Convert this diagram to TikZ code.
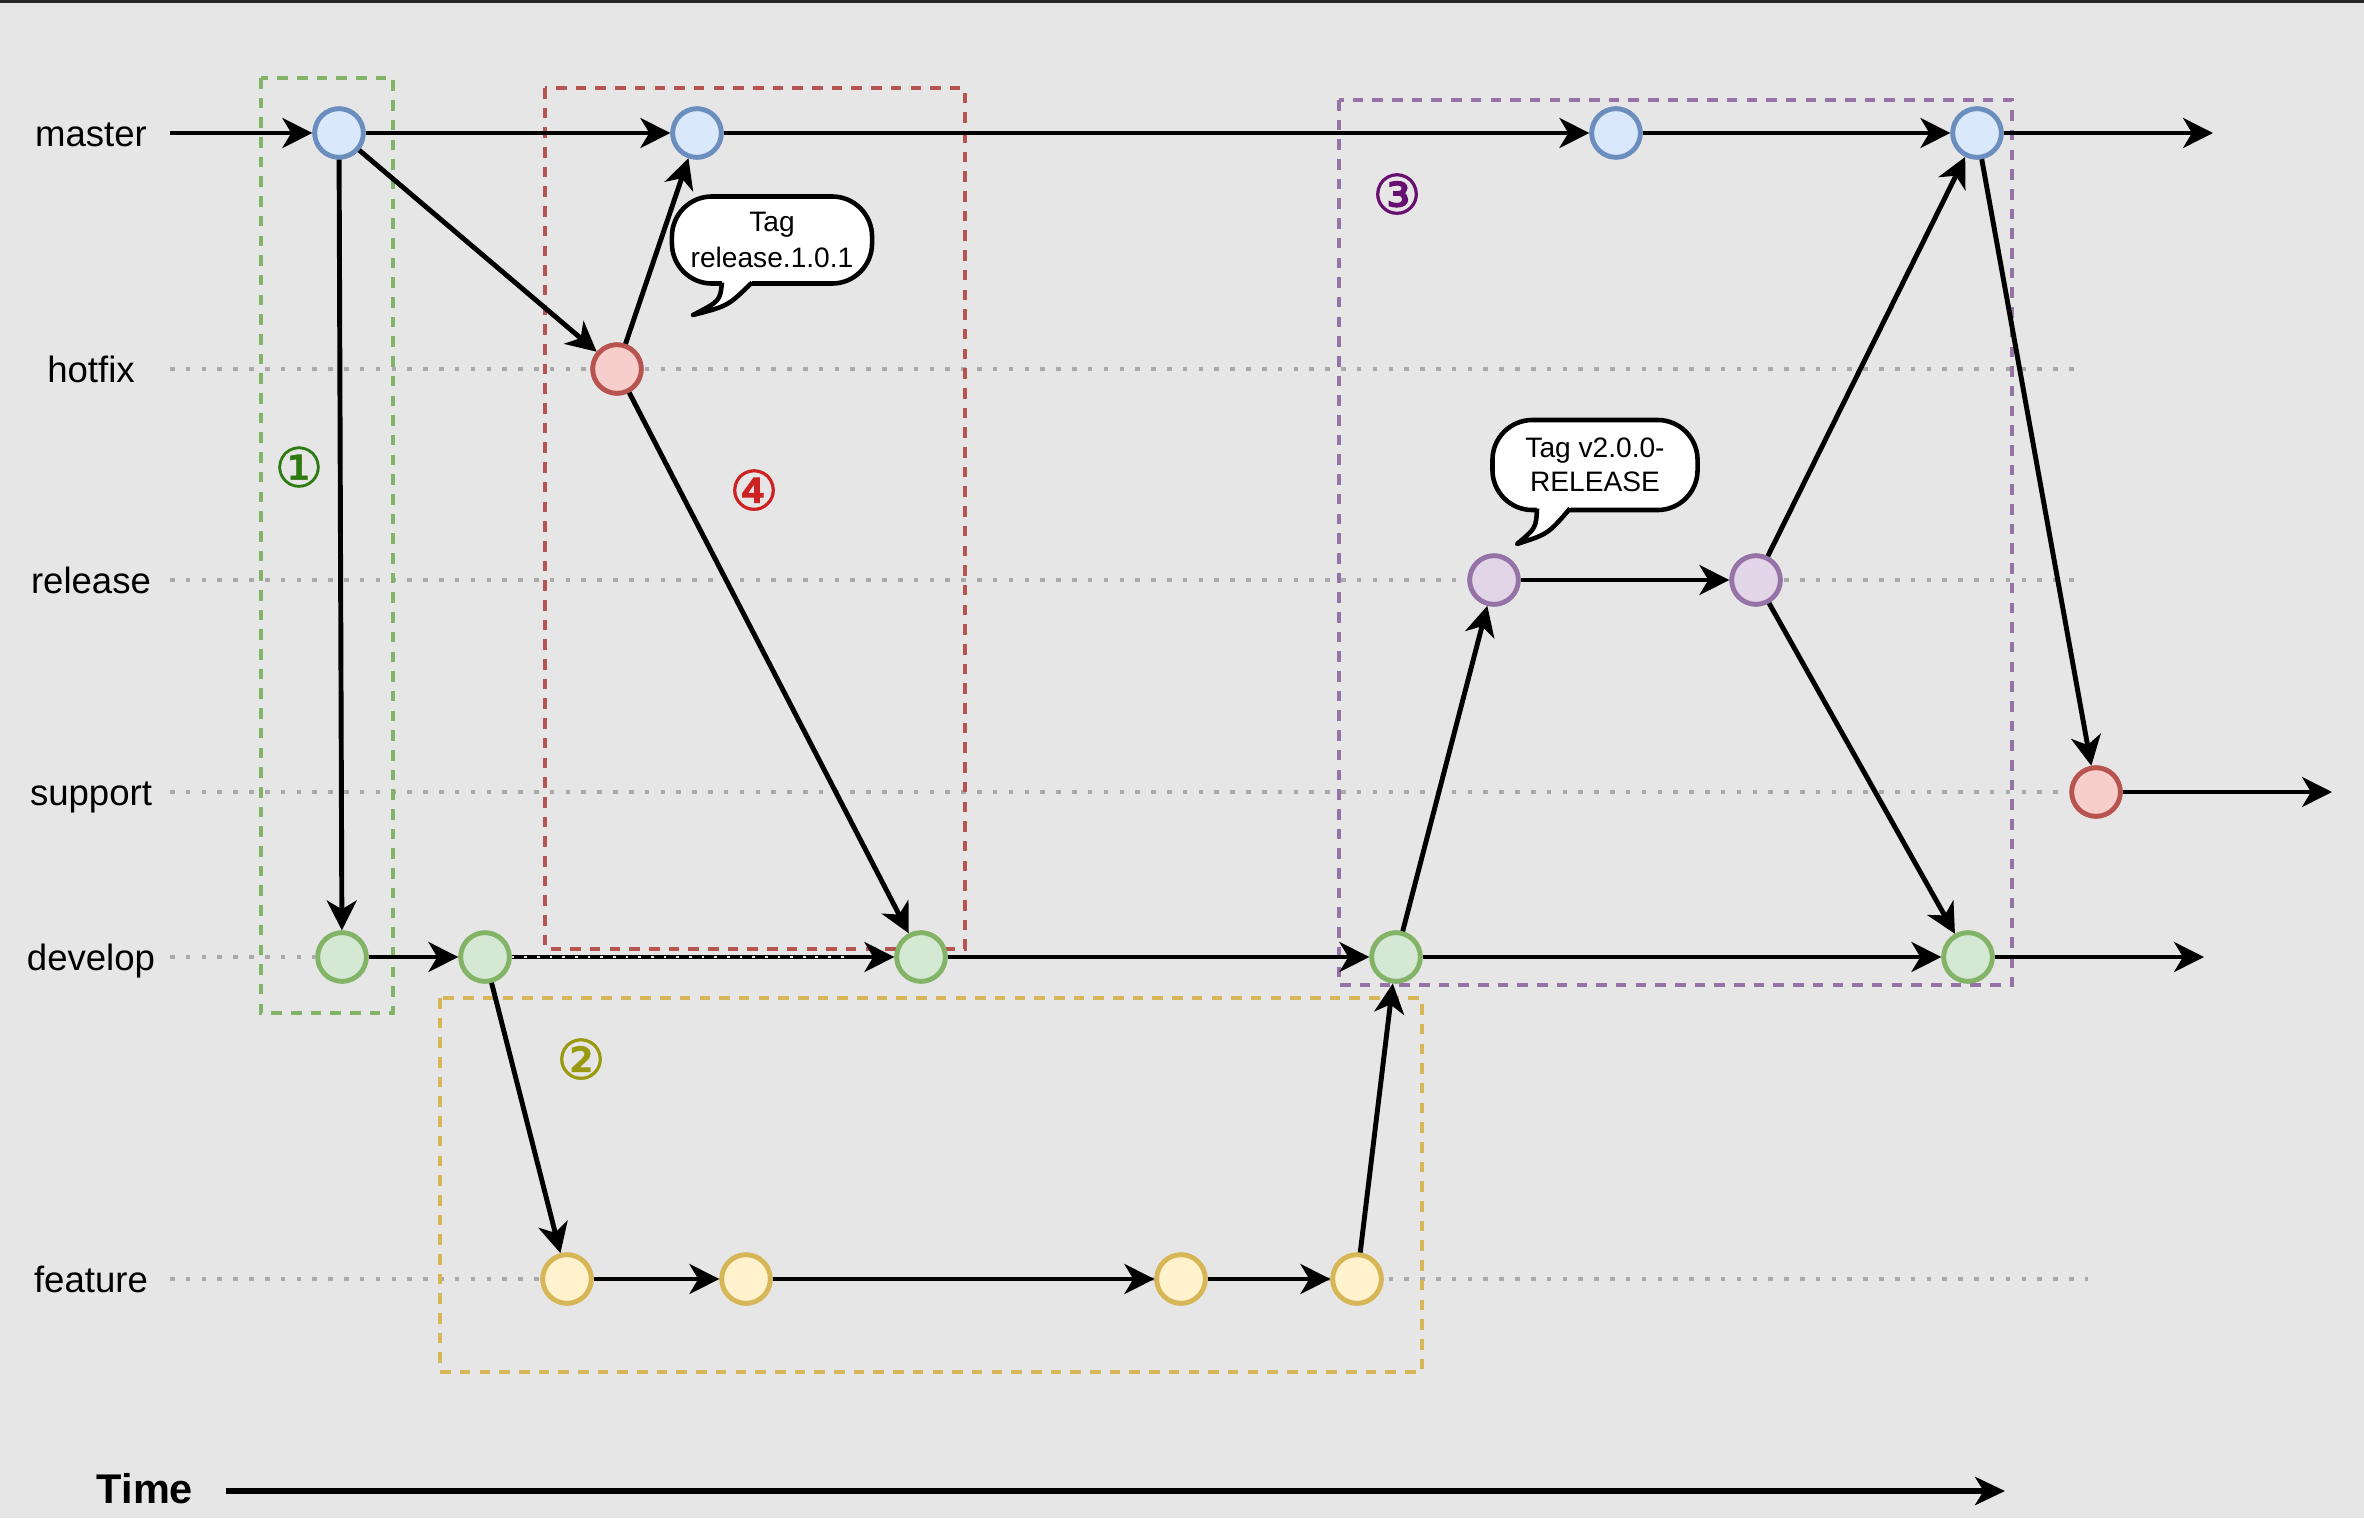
\documentclass[tikz,border=0pt]{standalone}
\usepackage{fontspec}
\setmainfont{Liberation Sans}
\newfontfamily\circfont[FakeBold=1]{DejaVu Sans}
\newfontfamily\circfontb[FakeBold=1.8]{DejaVu Sans}
\usetikzlibrary{arrows.meta}
\definecolor{bg}{HTML}{E6E6E6}
\definecolor{blueF}{HTML}{DAE8FC}\definecolor{blueS}{HTML}{6C8EBF}
\definecolor{redF}{HTML}{F8CECC}\definecolor{redS}{HTML}{B85450}
\definecolor{greenF}{HTML}{D5E8D4}\definecolor{greenS}{HTML}{82B366}
\definecolor{purpF}{HTML}{E1D5E7}\definecolor{purpS}{HTML}{9673A6}
\definecolor{yelF}{HTML}{FFF2CC}\definecolor{yelS}{HTML}{D6B656}
\definecolor{dotc}{HTML}{AAAAAA}
\definecolor{numA}{HTML}{2D7A12}\definecolor{numB}{HTML}{9A9A10}
\definecolor{numC}{HTML}{660F70}\definecolor{numD}{HTML}{CC2222}
\begin{document}
\begin{tikzpicture}[x=0.01cm,y=-0.01cm,
  commit/.style={circle,line width=1.35pt,minimum size=0.485cm,inner sep=0pt},
  bluec/.style={commit,draw=blueS,fill=blueF},
  redc/.style={commit,draw=redS,fill=redF},
  greenc/.style={commit,draw=greenS,fill=greenF},
  purpc/.style={commit,draw=purpS,fill=purpF},
  yelc/.style={commit,draw=yelS,fill=yelF},
  arr/.style={line width=1.4pt,-{Stealth[length=8.5pt,width=8.5pt,inset=2.5pt]}},
  lane/.style={draw=dotc,line width=1.3pt,dash pattern=on 1.3pt off 3.2pt},
  grp/.style={line width=1.1pt,dash pattern=on 3pt off 2.6pt},
  lbl/.style={font=\fontsize{10.4}{12}\selectfont,text height=7.4pt,text depth=0pt,inner sep=0pt},
  tagbox/.style={draw=black,fill=white,line width=1.3pt,rounded corners=0.4cm,align=center,inner sep=0pt},
  num/.style={font=\circfont\fontsize{15.5}{15.5}\selectfont,inner sep=0pt},
  numb/.style={font=\circfontb\fontsize{15.5}{15.5}\selectfont,inner sep=0pt}
]
\useasboundingbox (0,0) rectangle (2364,1518);
\fill[bg] (0,0) rectangle (2364,1518);
\fill[black!85] (0,0) rectangle (2364,3);

% commits
\node[bluec] (M1) at (339,133) {};
\node[bluec] (M2) at (697,133) {};
\node[bluec] (M3) at (1616,133) {};
\node[bluec] (M4) at (1977,133) {};
\node[redc] (H1) at (617,369) {};
\node[purpc] (R1) at (1494,580) {};
\node[purpc] (R2) at (1756,580) {};
\node[redc] (S1) at (2096,792) {};
\node[greenc] (D1) at (342,957) {};
\node[greenc] (D2) at (485,957) {};
\node[greenc] (D3) at (921,957) {};
\node[greenc] (D4) at (1396,957) {};
\node[greenc] (D5) at (1968,957) {};
\node[yelc] (F1) at (567,1279) {};
\node[yelc] (F2) at (746,1279) {};
\node[yelc] (F3) at (1181,1279) {};
\node[yelc] (F4) at (1357,1279) {};

\coordinate (mIn) at (170,133);
\coordinate (mOut) at (2213,133);
\coordinate (sOut) at (2332,792);
\coordinate (dOut) at (2204,957);
\coordinate (tIn) at (226,1491);
\coordinate (tOut) at (2005,1491);

% lanes
\draw[lane] (170,369) -- (2081,369);
\draw[lane] (170,580) -- (2081,580);
\draw[lane] (170,792) -- (S1.west);
\draw[lane] (170,957) -- (D1.west);
\draw[lane] (170,1279) -- (2088,1279);

% group boxes
\draw[grp,draw=greenS] (261,78) rectangle (393,1013);
\draw[grp,draw=redS] (545,88) rectangle (965,949);
\draw[grp,draw=purpS] (1339,100) rectangle (2012,985);
\draw[grp,draw=yelS] (440,998) rectangle (1422,1372);

% redraw commits above lanes and boxes
\foreach \n/\s in {M1/bluec,M2/bluec,M3/bluec,M4/bluec,H1/redc,R1/purpc,R2/purpc,S1/redc,D1/greenc,D2/greenc,D3/greenc,D4/greenc,D5/greenc,F1/yelc,F2/yelc,F3/yelc,F4/yelc}
  \node[\s] at (\n) {};

% connectors
\draw[arr] (mIn) -- (M1);
\draw[arr] (M1) -- (M2);
\draw[arr] (M2) -- (M3);
\draw[arr] (M3) -- (M4);
\draw[arr] (M4) -- (mOut);
\draw[arr] (M1) -- (H1);
\draw[arr] (M1) -- (D1);
\draw[arr] (H1) -- (M2);
\draw[arr] (H1) -- (D3);
\draw[arr] (D1) -- (D2);
\draw[arr] (D2) -- (D3);
\draw[white!75!gray,line width=0.7pt,dash pattern=on 0.8pt off 2.8pt,shorten >=14pt] (D2.east) -- (D3.west);
\draw[arr] (D3) -- (D4);
\draw[arr] (D4) -- (D5);
\draw[arr] (D5) -- (dOut);
\draw[arr] (D2) -- (F1);
\draw[arr] (F1) -- (F2);
\draw[arr] (F2) -- (F3);
\draw[arr] (F3) -- (F4);
\draw[arr] (F4) -- (D4);
\draw[arr] (D4) -- (R1);
\draw[arr] (R1) -- (R2);
\draw[arr] (R2) -- (M4);
\draw[arr] (R2) -- (D5);
\draw[arr] (M4) -- (S1);
\draw[arr] (S1) -- (sOut);
\draw[line width=1.7pt,-{Stealth[length=8.5pt,width=8pt,inset=2.4pt]}] (tIn) -- (tOut);

% callouts
\node[tagbox,minimum width=2.0cm,minimum height=0.87cm,font=\fontsize{8}{10}\selectfont] (tag1) at (772,240) {Tag\\release.1.0.1};
\fill[white] (720,270) -- (722,282) .. controls (720,301) .. (693,315) .. controls (728,306) .. (752,282) -- (754,270) -- cycle;
\draw[line width=1.3pt,line join=round] (722,282.5) .. controls (720,301) .. (693,315) .. controls (728,306) .. (752,282.5);

\node[tagbox,minimum width=2.05cm,minimum height=0.9cm,font=\fontsize{8}{9.8}\selectfont] (tag2) at (1595,465) {Tag v2.0.0-\\RELEASE};
\fill[white] (1535,495) -- (1537,508) .. controls (1536,528) .. (1517,544) .. controls (1548,534) .. (1570,508) -- (1572,495) -- cycle;
\draw[line width=1.3pt,line join=round] (1537,508.5) .. controls (1536,528) .. (1517,544) .. controls (1548,534) .. (1570,508.5);

% group numbers
\node[num,text=numA] (n1) at (299,467) {①};
\node[numb,text=numB] (n2) at (581,1059) {②};
\node[numb,text=numC] (n3) at (1397,194) {③};
\node[numb,text=numD] (n4) at (754,490) {④};

% lane labels
\node[lbl] (Lmaster) at (91,133) {master};
\node[lbl] (Lhotfix) at (91,369) {hotfix};
\node[lbl] (Lrelease) at (91,580) {release};
\node[lbl] (Lsupport) at (91,792) {support};
\node[lbl] (Ldevelop) at (91,957) {develop};
\node[lbl] (Lfeature) at (91,1279) {feature};
\node[font=\bfseries\fontsize{11.8}{13}\selectfont,text height=8.4pt,text depth=0pt,inner sep=0pt] (Ltime) at (145,1489) {Time};
\end{tikzpicture}
\end{document}
